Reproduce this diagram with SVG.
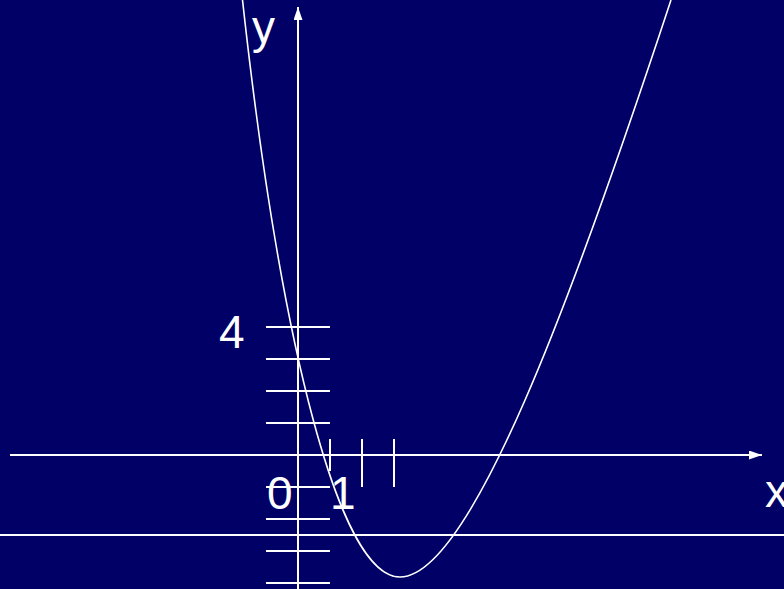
<svg xmlns="http://www.w3.org/2000/svg" width="784" height="589" viewBox="0 0 784 589">
  <style>
    .ax { stroke: #ffffff; stroke-width: 2; fill: none; }
    .tk { stroke: #ffffff; stroke-width: 2; fill: none; }
    .crv { stroke: #ffffff; stroke-width: 1.6; fill: none; }
    .lbl { fill: #ffffff; font-family: "Liberation Sans", Arial, sans-serif; font-size: 46px; }
  </style>
  <defs>
    <marker id="arr" viewBox="0 0 13 9" refX="13" refY="4.5" markerWidth="13" markerHeight="9" markerUnits="userSpaceOnUse" orient="auto">
      <path d="M0,0 L13,4.5 L0,9 Z" fill="#ffffff"/>
    </marker>
  </defs>
  <rect x="0" y="0" width="784" height="589" fill="#000066"/>
  <g id="connectors">
    <line id="y-axis" class="ax" x1="298" y1="589" x2="298" y2="7" marker-end="url(#arr)"/>
    <line id="x-axis" class="ax" x1="10" y1="455" x2="762" y2="455" marker-end="url(#arr)"/>
    <line id="hline" class="ax" x1="0" y1="535" x2="784" y2="535"/>
  </g>
  <g id="y-ticks">
    <line class="tk" x1="266" y1="327" x2="330" y2="327"/>
    <line class="tk" x1="266" y1="359" x2="330" y2="359"/>
    <line class="tk" x1="266" y1="391" x2="330" y2="391"/>
    <line class="tk" x1="266" y1="423" x2="330" y2="423"/>
    <line class="tk" x1="266" y1="487" x2="330" y2="487"/>
    <line class="tk" x1="266" y1="519" x2="330" y2="519"/>
    <line class="tk" x1="266" y1="551" x2="330" y2="551"/>
    <line class="tk" x1="266" y1="583" x2="330" y2="583"/>
  </g>
  <g id="x-ticks">
    <line class="tk" x1="330" y1="439" x2="330" y2="471"/>
    <line class="tk" x1="362" y1="439" x2="362" y2="487"/>
    <line class="tk" x1="394" y1="439" x2="394" y2="487"/>
  </g>
  <g id="curve">
    <path class="crv" d="M242.5,0 C281,350 340,577 400,577 C470,577 572,300 671,0"/>
  </g>
  <g id="labels">
    <text id="lbl-y" class="lbl" x="252" y="43">y</text>
    <text id="lbl-x" class="lbl" x="765" y="507">x</text>
    <text id="lbl-4" class="lbl" x="219" y="348">4</text>
    <text id="lbl-0" class="lbl" x="267" y="509">0</text>
    <text id="lbl-1" class="lbl" x="330" y="509">1</text>
  </g>
</svg>
